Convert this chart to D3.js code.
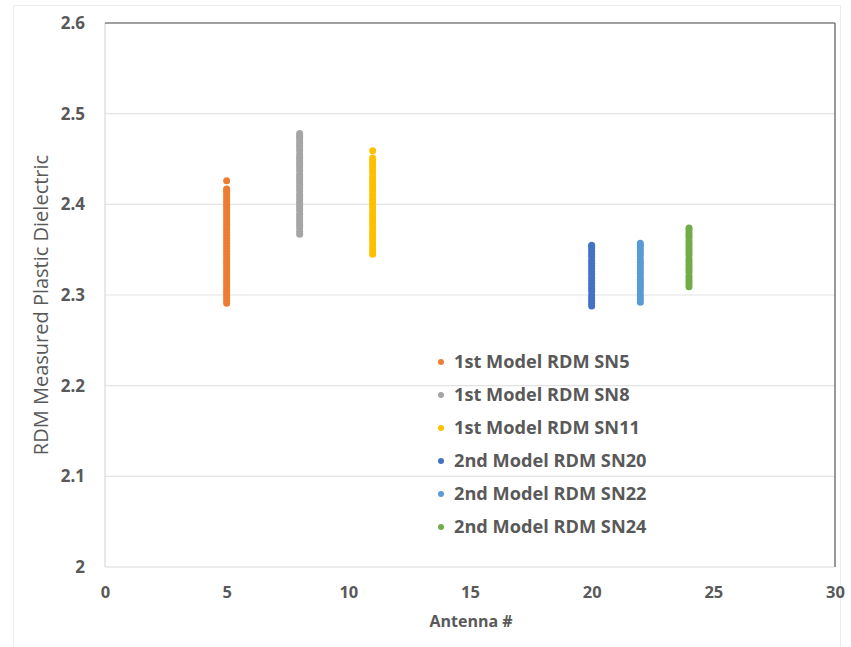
<!DOCTYPE html>
<html>
<head>
<meta charset="utf-8">
<script src="https://cdn.jsdelivr.net/npm/d3@7"></script>
<style>
  body { margin: 0; background: #fff; }
  svg text { font-family: "Open Sans", "Liberation Sans", sans-serif; fill: #595959; }
</style>
</head>
<body>
<svg id="chart" width="851" height="647"></svg>
<script>
const seriesNames = ['1st Model RDM SN5', '1st Model RDM SN8', '1st Model RDM SN11',
  '2nd Model RDM SN20', '2nd Model RDM SN22', '2nd Model RDM SN24'];
const antennas = [5, 8, 11, 20, 22, 24];
const colors = ['#ED7D31', '#A5A5A5', '#FFC000', '#4472C4', '#5B9BD5', '#70AD47'];

const sn5 = [2.291, 2.294, 2.297, 2.300, 2.303, 2.306, 2.309, 2.312, 2.315, 2.318, 2.321,
  2.324, 2.327, 2.330, 2.333, 2.336, 2.339, 2.342, 2.345, 2.348, 2.351, 2.354, 2.357, 2.360,
  2.363, 2.366, 2.369, 2.372, 2.375, 2.378, 2.381, 2.384, 2.387, 2.390, 2.393, 2.396, 2.399,
  2.402, 2.405, 2.408, 2.411, 2.414, 2.416, 2.417, 2.426];
const sn8 = [2.367, 2.370, 2.374, 2.377, 2.380, 2.383, 2.386, 2.389, 2.393, 2.396, 2.399,
  2.402, 2.405, 2.408, 2.411, 2.415, 2.418, 2.421, 2.424, 2.427, 2.430, 2.433, 2.437, 2.440,
  2.443, 2.446, 2.449, 2.452, 2.455, 2.459, 2.462, 2.465, 2.468, 2.471, 2.474, 2.476, 2.478];
const sn11 = [2.345, 2.348, 2.351, 2.354, 2.358, 2.361, 2.364, 2.367, 2.370, 2.373, 2.377,
  2.380, 2.383, 2.386, 2.389, 2.392, 2.396, 2.399, 2.402, 2.405, 2.408, 2.411, 2.415, 2.418,
  2.421, 2.424, 2.427, 2.430, 2.434, 2.437, 2.440, 2.443, 2.446, 2.449, 2.451, 2.459];
const sn20 = [2.288, 2.291, 2.294, 2.297, 2.300, 2.304, 2.307, 2.310, 2.313, 2.316, 2.319,
  2.323, 2.326, 2.329, 2.332, 2.335, 2.338, 2.342, 2.345, 2.348, 2.351, 2.353, 2.355];
const sn22 = [2.292, 2.295, 2.298, 2.301, 2.305, 2.308, 2.311, 2.314, 2.317, 2.320, 2.324,
  2.327, 2.330, 2.333, 2.336, 2.339, 2.343, 2.346, 2.349, 2.352, 2.355, 2.357];
const sn24 = [2.309, 2.312, 2.315, 2.318, 2.321, 2.325, 2.328, 2.331, 2.334, 2.337, 2.340,
  2.344, 2.347, 2.350, 2.353, 2.356, 2.359, 2.363, 2.366, 2.369, 2.372, 2.374];
const seriesValues = [sn5, sn8, sn11, sn20, sn22, sn24];

const xTicks = [0, 5, 10, 15, 20, 25, 30];
const yTicks = [2, 2.1, 2.2, 2.3, 2.4, 2.5, 2.6];

const svg = d3.select('#chart');
const margin = {top: 23, right: 16, bottom: 80, left: 105};
const width = 851 - margin.left - margin.right;
const height = 647 - margin.top - margin.bottom;

// faint outer frame
svg.append('rect')
  .attr('x', 13.5).attr('y', 5.5).attr('width', 827).attr('height', 660)
  .attr('fill', 'none').attr('stroke', '#ececec');

const chart = svg.append('g')
  .attr('transform', `translate(${margin.left}, ${margin.top})`);

const xScale = d3.scaleLinear().domain([0, 30]).range([0, width]);
const yScale = d3.scaleLinear().domain([2, 2.6]).range([height, 0]);

// gridlines
chart.selectAll('.grid')
  .data(yTicks.slice(1, -1))
  .join('line')
  .attr('class', 'grid')
  .attr('x1', 0).attr('x2', width)
  .attr('y1', d => yScale(d)).attr('y2', d => yScale(d))
  .attr('stroke', '#e3e3e3').attr('stroke-width', 1.2);

// plot frame: light left/bottom, darker top/right
chart.append('line').attr('x1', 0).attr('x2', 0).attr('y1', 0).attr('y2', height)
  .attr('stroke', '#d9d9d9').attr('stroke-width', 1.2);
chart.append('line').attr('x1', 0).attr('x2', width).attr('y1', height).attr('y2', height)
  .attr('stroke', '#d9d9d9').attr('stroke-width', 1.2);
chart.append('line').attr('x1', 0).attr('x2', width).attr('y1', 0).attr('y2', 0)
  .attr('stroke', '#7f7f7f').attr('stroke-width', 1.6);
chart.append('line').attr('x1', width).attr('x2', width).attr('y1', 0).attr('y2', height)
  .attr('stroke', '#7f7f7f').attr('stroke-width', 1.6);

// axes
const xAxis = d3.axisBottom(xScale).tickValues(xTicks).tickSize(0).tickPadding(16);
const yAxis = d3.axisLeft(yScale).tickValues(yTicks).tickSize(0).tickPadding(20)
  .tickFormat(d => d3.format('')(+d.toFixed(1)));

const xAxisGroup = chart.append('g')
  .attr('transform', `translate(0, ${height})`)
  .call(xAxis);
xAxisGroup.select('.domain').remove();
xAxisGroup.selectAll('text')
  .attr('font-size', 16.5).attr('font-weight', 'bold').attr('fill', '#595959')
  .attr('dy', '0.9em');

const yAxisGroup = chart.append('g').call(yAxis);
yAxisGroup.select('.domain').remove();
yAxisGroup.selectAll('text')
  .attr('font-size', 17).attr('font-weight', 'bold').attr('fill', '#595959');

// axis titles
svg.append('text')
  .attr('x', margin.left + width / 2 + 1).attr('y', 627)
  .attr('text-anchor', 'middle')
  .attr('font-size', 16).attr('font-weight', 'bold')
  .text('Antenna #');

svg.append('text')
  .attr('transform', `translate(48, ${margin.top + height / 2 + 10}) rotate(-90)`)
  .attr('text-anchor', 'middle')
  .attr('font-size', 20)
  .text('RDM Measured Plastic Dielectric');

// points
const points = [];
seriesValues.forEach((vals, i) => {
  vals.forEach(v => points.push({s: i, x: antennas[i], y: v}));
});

chart.selectAll('circle.pt')
  .data(points)
  .join('circle')
  .attr('class', 'pt')
  .attr('cx', d => xScale(d.x))
  .attr('cy', d => yScale(d.y))
  .attr('r', 3.5)
  .attr('fill', d => colors[d.s]);

// legend
const legend = svg.append('g').attr('transform', 'translate(441, 362)');
const rows = legend.selectAll('g')
  .data(seriesNames)
  .join('g')
  .attr('transform', (d, i) => `translate(0, ${i * 33})`);
rows.append('circle')
  .attr('r', 3)
  .attr('fill', (d, i) => colors[i]);
rows.append('text')
  .attr('x', 13).attr('dy', '0.35em')
  .attr('font-size', 18.2).attr('font-weight', 'bold')
  .text(d => d);
</script>
</body>
</html>
